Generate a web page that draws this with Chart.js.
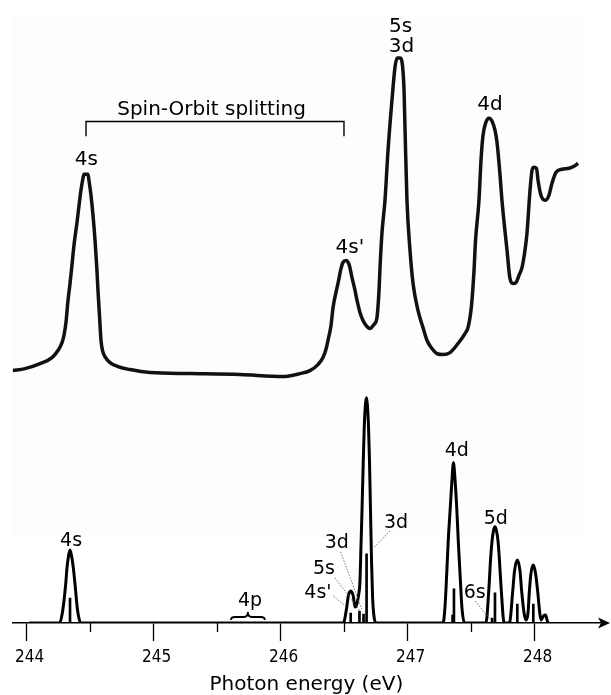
<!DOCTYPE html>
<html>
<head>
<meta charset="utf-8">
<script src="https://cdn.jsdelivr.net/npm/chart.js@4.4.1/dist/chart.umd.min.js"></script>
<style>
  html, body { margin: 0; padding: 0; background: #fff; }
  #wrap { width: 611px; height: 695px; position: relative; }
</style>
</head>
<body>
<div id="wrap"><canvas id="chart"></canvas></div>
<script>
// ===== x axis =====
const xTickValues = [244, 244.5, 245, 245.5, 246, 246.5, 247, 247.5, 248];
const xMin = 243.8906;
const xMax = 248.515;

// ===== measured spectrum (upper trace, arbitrary units) =====
const expEnergy = [
  243.891, 243.987, 244.106, 244.200, 244.247, 244.279, 244.294, 244.310, 244.326, 244.342,
  244.357, 244.373, 244.397, 244.413, 244.428, 244.444, 244.452, 244.483, 244.491, 244.507,
  244.523, 244.539, 244.554, 244.562, 244.574, 244.586, 244.598, 244.617, 244.657, 244.720,
  244.814, 244.972, 245.287, 245.680, 246.019, 246.153, 246.231, 246.294, 246.334, 246.357,
  246.373, 246.397, 246.413, 246.436, 246.452, 246.476, 246.491, 246.515, 246.539, 246.562,
  246.586, 246.602, 246.625, 246.649, 246.680, 246.704, 246.735, 246.759, 246.775, 246.783,
  246.798, 246.822, 246.846, 246.877, 246.901, 246.917, 246.941, 246.956, 246.972, 246.980,
  246.995, 247.019, 247.043, 247.082, 247.121, 247.153, 247.192, 247.231, 247.279, 247.334,
  247.397, 247.452, 247.476, 247.499, 247.507, 247.523, 247.535, 247.562, 247.578, 247.594,
  247.617, 247.641, 247.665, 247.688, 247.704, 247.728, 247.743, 247.783, 247.806, 247.830,
  247.854, 247.877, 247.901, 247.924, 247.940, 247.964, 247.980, 247.995, 248.015, 248.027,
  248.050, 248.082, 248.113, 248.137, 248.169, 248.216, 248.271, 248.310, 248.342
];
const expSignal = [
  3, 5, 10, 16, 23, 31, 38, 51, 73, 90,
  108, 128, 151, 168, 183, 195, 199, 199, 193, 178,
  158, 133, 103, 83, 58, 33, 23, 17, 11, 7,
  4, 1, 0, -1, -3, 0, 3, 9, 16, 24,
  33, 48, 66, 81, 90, 105, 111, 113, 109, 96,
  83, 73, 61, 53, 47, 45, 49, 56, 83, 106,
  140, 173, 223, 273, 306, 315, 315, 311, 283, 243,
  173, 123, 90, 63, 46, 33, 25, 20, 19, 21,
  30, 40, 46, 63, 73, 103, 133, 173, 213, 238,
  251, 255, 252, 243, 231, 198, 173, 123, 95, 90,
  91, 98, 106, 123, 140, 183, 203, 206, 205, 193,
  178, 173, 178, 190, 201, 204, 205, 207, 210
];

// ===== calculated spectrum (lower trace) =====
const calcEnergy = [
  244.021, 244.259, 244.284, 244.308, 244.318, 244.330, 244.342, 244.354, 244.368, 244.381,
  244.402, 244.428,
  246.494, 246.520, 246.533, 246.552, 246.572, 246.586, 246.598, 246.613, 246.625, 246.633,
  246.641, 246.649, 246.659, 246.676, 246.692, 246.700, 246.708, 246.716, 246.724, 246.735,
  246.751,
  247.279, 247.294, 247.308, 247.320, 247.336, 247.350, 247.361, 247.373, 247.387, 247.399,
  247.413, 247.428, 247.448,
  247.617, 247.639, 247.654, 247.665, 247.676, 247.688, 247.700, 247.712, 247.722, 247.738,
  247.760,
  247.802, 247.828, 247.842, 247.864, 247.885, 247.898, 247.917, 247.932,
  247.948, 247.959, 247.972, 247.990, 248.007, 248.024, 248.039, 248.050, 248.070, 248.086,
  248.098, 248.106
];
const calcIntensity = [
  0, 0, 12, 39, 55, 67, 73, 67, 55, 39,
  12, 0,
  0, 15, 27, 32, 27, 16, 18, 27, 42, 77,
  112, 152, 197, 225, 197, 162, 112, 62, 27, 7,
  0,
  0, 15, 49, 82, 115, 144, 160, 144, 115, 82,
  49, 15, 0,
  0, 32, 65, 82, 92, 96, 92, 82, 65, 32,
  0,
  0, 32, 52, 63, 52, 32, 10, 3,
  10, 32, 50, 58, 50, 32, 12, 3, 7, 8,
  3, 0
];

// ===== transition lines (sticks) =====
const lineEnergy = [244.342, 246.552, 246.621, 246.653, 246.677, 247.354, 247.365, 247.665, 247.688, 247.864, 247.990];
const lineStrength = [25, 10, 12, 9, 69, 8, 34, 5, 30, 19, 19];

// ===== labels =====
const expLabels = ['4s', "4s'", '5s', '3d', '4d'];
const expLabelEnergy = [244.471, 246.546, 246.944, 246.952, 247.649];
const expLabelSignal = [208, 120, 341, 321, 263];

const calcLabels = ['4s', '4p', "4s'", '5s', '3d', '3d', '4d', '5d', '6s'];
const calcLabelEnergy = [244.350, 245.759, 246.294, 246.342, 246.442, 246.909, 247.387, 247.694, 247.528];
const calcLabelIntensity = [77, 17, 25, 49, 75, 95, 167, 99, 25];

// leader lines: from label to transition line
const leaderFrom = [[246.415, 27], [246.428, 45], [246.473, 71], [246.861, 92], [247.531, 22]];
const leaderTo = [[246.520, 16], [246.620, 13], [246.639, 14], [246.725, 74], [247.649, 4]];

// spin-orbit bracket (upper) and 4p brace (lower)
const splitText = 'Spin-Orbit splitting';
const splitTextAt = [245.456, 258];
const splitEnergy = [244.468, 246.499];
const splitLevels = [252, 237];
const braceEnergy = [245.609, 245.876];
const braceLevels = [3, 11];

const LABEL_FONT = '"DejaVu Sans", "Noto Sans", sans-serif';
const TICK_FONT = '"DejaVu Sans Condensed", "DejaVu Sans", sans-serif';

function pts(xs, ys) {
    return xs.map(function (x, i) { return { x: x, y: ys[i] }; });
}

// ===== decorations =====
const decorPlugin = {
    id: 'decor',
    beforeDraw: function (chart) {
        const c = chart.ctx;
        c.save();
        c.fillStyle = '#fdfdfd';
        c.fillRect(12, 15, 573, 522);
        c.restore();
    },
    afterDraw: function (chart) {
        const c = chart.ctx;
        const sx = chart.scales.x;
        const sy = chart.scales.y;
        const se = chart.scales.yExp;
        const area = chart.chartArea;
        const axisY = area.bottom;
        c.save();

        // minor ticks
        c.strokeStyle = '#000';
        c.lineWidth = 1.3;
        xTickValues.forEach(function (v) {
            if (Number.isInteger(v)) return;
            const px = Math.round(sx.getPixelForValue(v)) + 0.5;
            c.beginPath();
            c.moveTo(px, axisY);
            c.lineTo(px, axisY + 9);
            c.stroke();
        });

        // arrow head
        const ax = area.right;
        c.fillStyle = '#000';
        c.beginPath();
        c.moveTo(ax + 10, axisY);
        c.lineTo(ax - 2, axisY - 5.5);
        c.lineTo(ax + 1, axisY);
        c.lineTo(ax - 2, axisY + 5.5);
        c.closePath();
        c.fill();

        // spin-orbit bracket
        const bx0 = sx.getPixelForValue(splitEnergy[0]);
        const bx1 = sx.getPixelForValue(splitEnergy[1]);
        const by = Math.round(se.getPixelForValue(splitLevels[0])) + 0.5;
        const byEnd = se.getPixelForValue(splitLevels[1]);
        c.lineWidth = 1.4;
        c.beginPath();
        c.moveTo(bx0, byEnd);
        c.lineTo(bx0, by);
        c.lineTo(bx1, by);
        c.lineTo(bx1, byEnd);
        c.stroke();

        // 4p brace
        const r0 = sx.getPixelForValue(braceEnergy[0]);
        const r1 = sx.getPixelForValue(braceEnergy[1]);
        const rm = (r0 + r1) / 2;
        const rb = sy.getPixelForValue(braceLevels[0]);
        const rt = sy.getPixelForValue(braceLevels[1]);
        const rmid = (rb + rt) / 2 + 1;
        c.lineWidth = 1.8;
        c.beginPath();
        c.moveTo(r0, rb);
        c.quadraticCurveTo(r0, rmid, r0 + 4, rmid);
        c.lineTo(rm - 4, rmid);
        c.quadraticCurveTo(rm, rmid, rm, rt);
        c.quadraticCurveTo(rm, rmid, rm + 4, rmid);
        c.lineTo(r1 - 4, rmid);
        c.quadraticCurveTo(r1, rmid, r1, rb);
        c.stroke();

        // leaders
        c.strokeStyle = '#666';
        c.lineWidth = 0.9;
        c.setLineDash([1.5, 1.5]);
        leaderFrom.forEach(function (p, i) {
            const q = leaderTo[i];
            c.beginPath();
            c.moveTo(sx.getPixelForValue(p[0]), sy.getPixelForValue(p[1]));
            c.lineTo(sx.getPixelForValue(q[0]), sy.getPixelForValue(q[1]));
            c.stroke();
        });
        c.setLineDash([]);

        // texts
        c.fillStyle = '#000';
        c.textAlign = 'center';
        c.textBaseline = 'alphabetic';
        c.font = '20px ' + LABEL_FONT;
        c.fillText(splitText, sx.getPixelForValue(splitTextAt[0]), se.getPixelForValue(splitTextAt[1]));
        expLabels.forEach(function (t, i) {
            c.fillText(t, sx.getPixelForValue(expLabelEnergy[i]), se.getPixelForValue(expLabelSignal[i]));
        });
        c.font = '19px ' + LABEL_FONT;
        calcLabels.forEach(function (t, i) {
            c.fillText(t, sx.getPixelForValue(calcLabelEnergy[i]), sy.getPixelForValue(calcLabelIntensity[i]));
        });
        c.restore();
    }
};

new Chart(document.getElementById('chart'), {
    type: 'line',
    data: {
        datasets: [
            {
                label: 'experiment',
                yAxisID: 'yExp',
                data: pts(expEnergy, expSignal),
                borderColor: '#111',
                borderWidth: 3.5,
                pointRadius: 0,
                cubicInterpolationMode: 'monotone',
                fill: false
            },
            {
                label: 'calculation',
                yAxisID: 'y',
                data: pts(calcEnergy, calcIntensity),
                borderColor: '#000',
                borderWidth: 3,
                pointRadius: 0,
                cubicInterpolationMode: 'monotone',
                fill: false
            },
            {
                type: 'bar',
                label: 'lines',
                yAxisID: 'y',
                data: pts(lineEnergy, lineStrength),
                backgroundColor: '#000',
                barThickness: 2,
                borderWidth: 0
            }
        ]
    },
    options: {
        responsive: true,
        maintainAspectRatio: false,
        animation: false,
        layout: { padding: { left: 12.7, right: 11, top: 10, bottom: 0 } },
        plugins: { legend: { display: false }, tooltip: { enabled: false } },
        scales: {
            x: {
                type: 'linear',
                min: xMin,
                max: xMax,
                offset: false,
                afterBuildTicks: function (s) {
                    s.ticks = xTickValues.map(function (v) { return { value: v }; });
                },
                grid: {
                    display: true,
                    offset: false,
                    drawOnChartArea: false,
                    drawTicks: true,
                    tickLength: 18,
                    tickWidth: 1.3,
                    tickColor: function (ctx) {
                        return ctx.tick && Number.isInteger(ctx.tick.value) ? '#000' : 'rgba(0,0,0,0)';
                    }
                },
                border: { display: true, color: '#000', width: 1.5 },
                ticks: {
                    autoSkip: false,
                    maxRotation: 0,
                    padding: 6,
                    labelOffset: 3,
                    color: '#000',
                    font: { family: TICK_FONT, size: 17 },
                    callback: function (v) { return Number.isInteger(v) ? String(v) : ''; }
                },
                title: {
                    display: true,
                    text: 'Photon energy (eV)',
                    color: '#000',
                    font: { family: LABEL_FONT, size: 20, lineHeight: 1 },
                    padding: { top: 1.6, bottom: 0 }
                }
            },
            y: { display: false, min: 0, max: 612 },
            yExp: { display: false, min: -249, max: 363 }
        }
    },
    plugins: [decorPlugin]
});
</script>
</body>
</html>
